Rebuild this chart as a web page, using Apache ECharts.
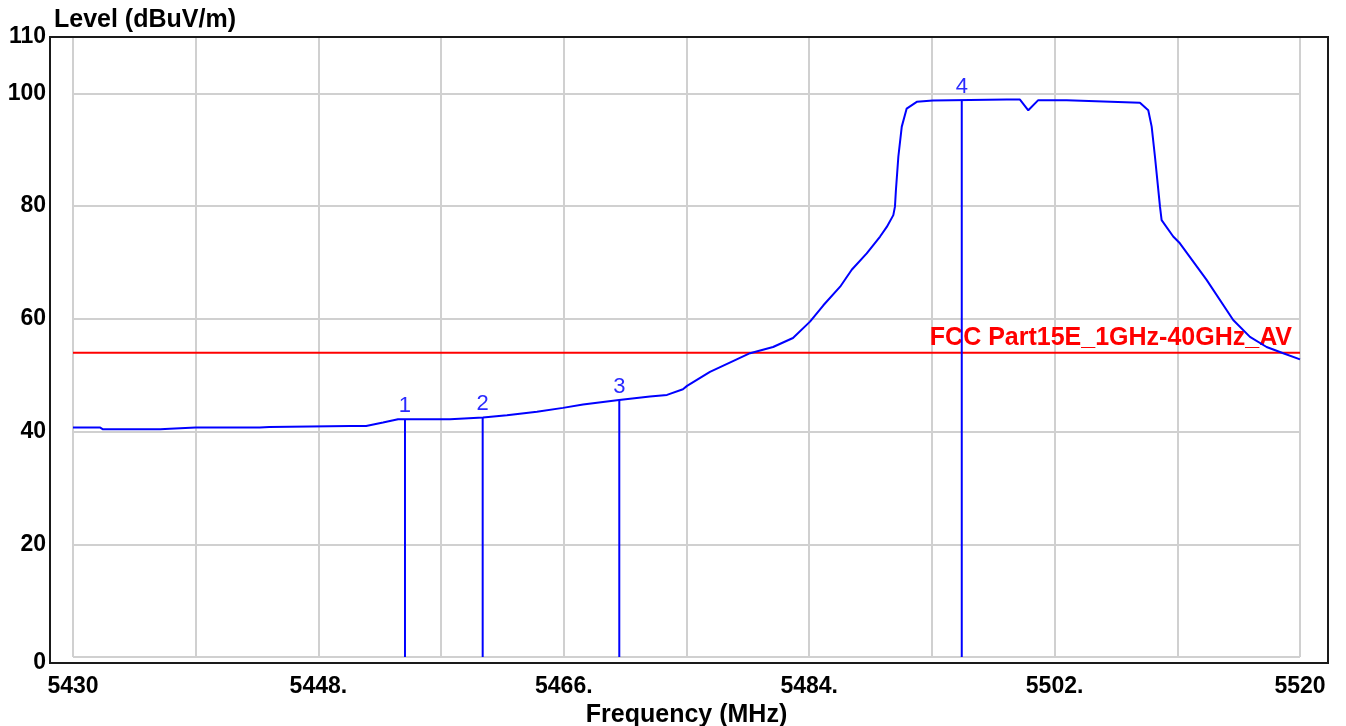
<!DOCTYPE html>
<html>
<head>
<meta charset="utf-8">
<script src="https://cdn.jsdelivr.net/npm/echarts@6/dist/echarts.min.js"></script>
<style>
html,body{margin:0;padding:0;background:#fff;}
#c{width:1346px;height:726px;}
</style>
</head>
<body>
<div id="c"></div>
<script>
// Trace (frequency in MHz, level in dBuV/m)
const traceFreq = [5430.0, 5432.0, 5432.2, 5436.4, 5437.1, 5439.0, 5443.7, 5444.4, 5450.3, 5451.5,
  5452.74, 5453.84, 5457.65, 5460.07, 5461.83, 5464.03, 5465.94, 5467.41, 5470.05, 5472.32,
  5473.57, 5474.74, 5475.04, 5476.72, 5478.41, 5479.66, 5481.35, 5482.81, 5484.06, 5485.04,
  5486.27, 5487.12, 5488.22, 5489.20, 5489.69, 5490.17, 5490.29, 5490.36, 5490.54, 5490.79,
  5491.15, 5491.89, 5493.08, 5498.49, 5499.46, 5500.07, 5500.80, 5502.89, 5502.98, 5508.26,
  5508.87, 5509.12, 5509.36, 5509.73, 5509.85, 5510.70, 5511.19, 5513.15, 5515.10, 5516.33,
  5517.55, 5518.77, 5520.0];
const traceLevel = [40.7, 40.7, 40.4, 40.4, 40.5, 40.7, 40.7, 40.8, 41.0, 41.0,
  41.6, 42.17, 42.2, 42.5, 42.9, 43.5, 44.2, 44.8, 45.6, 46.2,
  46.5, 47.5, 48.1, 50.6, 52.5, 53.9, 55.0, 56.6, 59.5, 62.4,
  65.7, 68.7, 71.6, 74.6, 76.3, 78.4, 79.9, 82.8, 88.8, 94.1,
  97.3, 98.5, 98.75, 98.9, 98.9, 97.0, 98.8, 98.8, 98.5, 98.35,
  97.0, 94.1, 88.8, 79.9, 77.5, 74.6, 73.4, 66.9, 59.8, 56.8,
  55.0, 53.9, 52.8];

// Markers
const markerNames = ['1', '2', '3', '4'];
const markerFreq = [5454.35, 5460.05, 5470.07, 5495.19];
const markerLevel = [42.17, 42.52, 45.59, 98.75];

// Limit line
const limitName = 'FCC Part15E_1GHz-40GHz_AV';
const limitLevel = 54;

// Axes
const xMin = 5430, xMax = 5520, xStep = 9;
const yMin = 0, yMax = 110, yStep = 20;
const xTitle = 'Frequency (MHz)';
const yTitle = 'Level (dBuV/m)';

const FONT = '"Liberation Sans", Arial, sans-serif';
const BLUE = '#0000ff';

const chart = echarts.init(document.getElementById('c'), null, {renderer: 'canvas'});

const series = [];
series.push({
  type: 'line',
  data: traceFreq.map((f, i) => [f, traceLevel[i]]),
  symbol: 'none',
  lineStyle: {color: BLUE, width: 2},
  silent: true,
  z: 3
});
series.push({
  type: 'line',
  data: [
    [xMin, limitLevel],
    {value: [xMax, limitLevel], label: {show: true, formatter: limitName}}
  ],
  symbol: 'circle',
  symbolSize: 0,
  lineStyle: {color: '#ff0000', width: 2},
  silent: true,
  z: 2,
  label: {
    show: false,
    position: 'left',
    distance: 8,
    verticalAlign: 'bottom',
    offset: [0, -2],
    color: '#ff0000',
    fontFamily: FONT,
    fontWeight: 'bold',
    fontSize: 25
  }
});
markerNames.forEach((n, i) => {
  series.push({
    type: 'line',
    data: [
      [markerFreq[i], 0],
      {value: [markerFreq[i], markerLevel[i]], label: {show: true, formatter: n}}
    ],
    symbol: 'circle',
    symbolSize: 0,
    lineStyle: {color: BLUE, width: 2},
    label: {
      show: false,
      position: 'top',
      distance: 2,
      color: '#2a2aff',
      fontFamily: FONT,
      fontSize: 22
    },
    silent: true,
    z: 4
  });
});

chart.setOption({
  animation: false,
  backgroundColor: '#ffffff',
  grid: {left: 73, right: 46, top: 37, bottom: 69, containLabel: false, outerBoundsMode: 'none'},
  title: {
    text: yTitle,
    left: 49, top: 3,
    textStyle: {fontFamily: FONT, fontWeight: 'bold', fontSize: 25, color: '#000'}
  },
  xAxis: {
    type: 'value',
    min: xMin, max: xMax, interval: xStep,
    name: xTitle,
    nameLocation: 'middle',
    nameGap: 38,
    nameTextStyle: {fontFamily: FONT, fontWeight: 'bold', fontSize: 25, color: '#000'},
    axisLine: {show: false},
    axisTick: {show: false},
    splitLine: {show: true, lineStyle: {color: '#d0d0d0', width: 2}},
    axisLabel: {
      fontFamily: FONT, fontWeight: 'bold', fontSize: 23, color: '#000',
      margin: 18,
      showMinLabel: true, showMaxLabel: true,
      formatter: function (v) {
        const d = Math.round(v - xMin);
        if (d % 18 !== 0) return '';
        if (v === xMin || v === xMax) return String(Math.round(v));
        return Math.round(v) + '.';
      }
    }
  },
  yAxis: {
    type: 'value',
    min: yMin, max: yMax, interval: yStep,
    axisLine: {show: false},
    axisTick: {show: false},
    splitLine: {show: true, lineStyle: {color: '#d0d0d0', width: 2}},
    axisLabel: {
      fontFamily: FONT, fontWeight: 'bold', fontSize: 23, color: '#000',
      margin: 27,
      showMinLabel: true, showMaxLabel: true,
      formatter: function (v) { return v === yMin ? '{z|' + v + '}' : String(v); },
      rich: {z: {fontFamily: FONT, fontWeight: 'bold', fontSize: 23, color: '#000', padding: [12, 0, 0, 0]}}
    }
  },
  graphic: [{
    type: 'rect',
    shape: {x: 50, y: 37, width: 1278, height: 626},
    style: {fill: null, stroke: '#1a1a1a', lineWidth: 2},
    silent: true,
    z: 10
  }],
  series: series
});
</script>
</body>
</html>
